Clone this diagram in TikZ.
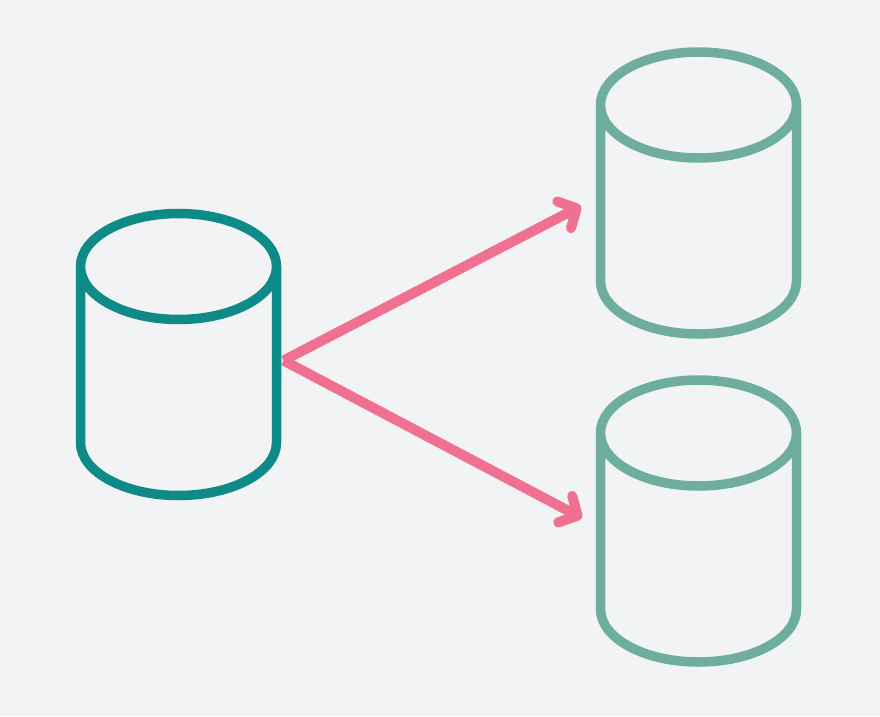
\documentclass[tikz,border=0pt]{standalone}
\usepackage{tikz}
\usetikzlibrary{arrows.meta, positioning, shapes.geometric}
\definecolor{pagebg}{HTML}{F2F3F5}
\definecolor{srcteal}{HTML}{0E8A87}
\definecolor{dstsage}{HTML}{6FAE9C}
\definecolor{arrowpink}{HTML}{F0708F}

\begin{document}
\begin{tikzpicture}[
    x = 1pt, y = -1pt,
    disc/.style = {shape=cylinder, draw, shape aspect=15.9,
                shape border rotate=90,
                anchor=shape center,
                line width=9.5pt,
                minimum width=196pt,
                minimum height=282pt},
    link/.style = {draw=arrowpink, line width=10pt,
                -{Straight Barb[round, length=14pt, width=30pt]}}
                    ]

\fill[pagebg] (0,0) rectangle (880,716);
\useasboundingbox (0,0) rectangle (880,716);

\node (src) [disc, draw=srcteal] at (178.5,354.5) {};
\node (dst1) [disc, draw=dstsage] at (698.5,193) {};
\node (dst2) [disc, draw=dstsage] at (698.5,521) {};

\coordinate (tip1) at (581,206);
\coordinate (tip2) at (582,518);

\draw[link] ([xshift=105pt, yshift=-6pt]src.shape center) -- (tip1);
\draw[link] ([xshift=105pt, yshift=-6pt]src.shape center) -- (tip2);

\end{tikzpicture}
\end{document}
